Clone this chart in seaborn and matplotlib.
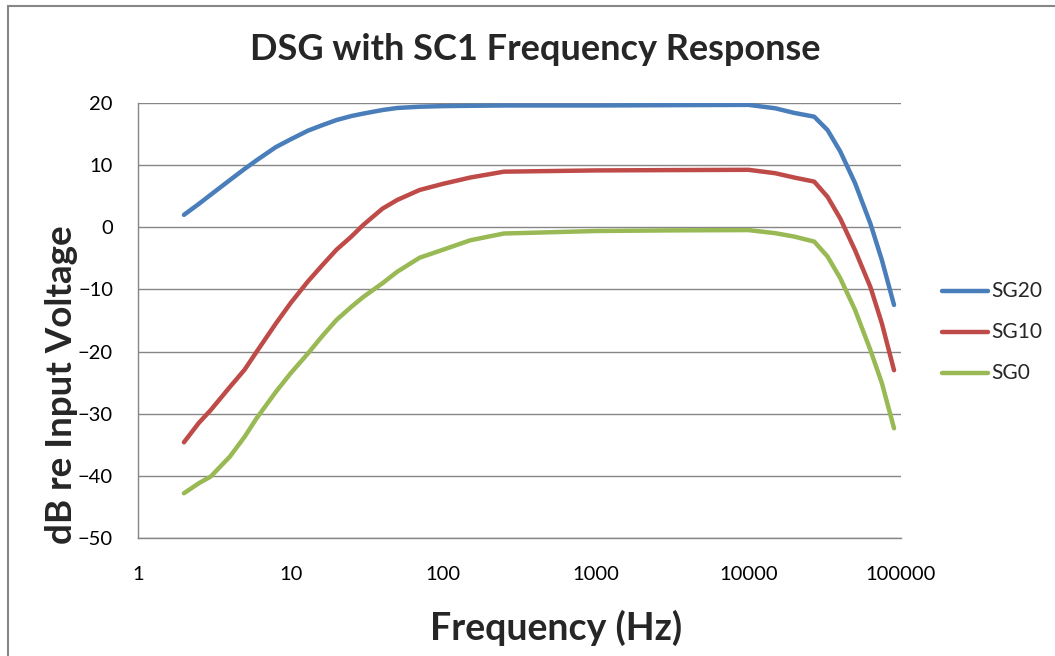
import numpy as np
import pandas as pd
import matplotlib
matplotlib.use("Agg")
import matplotlib.pyplot as plt
import seaborn as sns
from matplotlib.patches import Rectangle

# Values (Hz, dB)
freqs = [2, 2.5, 3, 4, 5, 6, 8, 10, 13, 16, 20, 25, 30, 40, 50, 70, 100, 150, 250,
         500, 1000, 3000, 10000, 15000, 20000, 27000, 33000, 40000, 50000, 63000,
         75000, 90000]
sg20 = [2.0, 3.75, 5.25, 7.6, 9.4, 10.8, 12.9, 14.15, 15.55, 16.4, 17.26, 17.9, 18.3,
        18.87, 19.2, 19.4, 19.5, 19.55, 19.6, 19.6, 19.6, 19.65, 19.7, 19.15, 18.4,
        17.8, 15.65, 12.2, 7.1, 0.6, -5.3, -12.5]
sg10 = [-34.6, -31.5, -29.4, -25.7, -22.9, -20.0, -15.5, -12.2, -8.7, -6.2, -3.6,
        -1.5, 0.4, 3.0, 4.4, 6.0, 7.0, 8.0, 8.95, 9.05, 9.15, 9.2, 9.25, 8.7, 8.0,
        7.35, 4.9, 1.4, -3.7, -9.6, -15.5, -23.0]
sg0 = [-42.8, -41.2, -40.1, -36.9, -33.7, -30.7, -26.5, -23.5, -20.3, -17.6, -14.9,
       -12.8, -11.2, -9.0, -7.15, -4.9, -3.6, -2.1, -1.0, -0.8, -0.6, -0.5, -0.45,
       -0.95, -1.5, -2.3, -4.7, -8.2, -13.3, -19.75, -25.1, -32.35]
series_names = ["SG20", "SG10", "SG0"]
colors = ["#4A7EBB", "#BE4B48", "#98B954"]

x_ticks = [1, 10, 100, 1000, 10000, 100000]
y_ticks = [20, 10, 0, -10, -20, -30, -40, -50]

df = pd.DataFrame({
    "Frequency": freqs * 3,
    "dB": sg20 + sg10 + sg0,
    "Series": [s for s in series_names for _ in freqs],
})

sns.set_style("white")
plt.rcParams["font.family"] = ["Lato", "DejaVu Sans"]

fig = plt.figure(figsize=(10.55, 6.56), dpi=100)
ax = fig.add_axes([138 / 1055, 1 - 538 / 656, 763 / 1055, 435 / 656])

sns.lineplot(data=df, x="Frequency", y="dB", hue="Series",
             palette=dict(zip(series_names, colors)), linewidth=3.2,
             ax=ax, legend=False)

ax.set_xscale("log")
ax.set_xlim(1, 100000)
ax.set_ylim(-50, 20)
ax.set_xticks(x_ticks)
ax.set_xticklabels([str(t) for t in x_ticks])
ax.minorticks_off()
ax.set_yticks(y_ticks)
ax.yaxis.grid(True, color="#868686", linewidth=1)
ax.xaxis.grid(False)
for side in ["top", "right"]:
    ax.spines[side].set_visible(False)
for side in ["left", "bottom"]:
    ax.spines[side].set_color("#868686")
    ax.spines[side].set_linewidth(1)
ax.tick_params(axis="both", which="major", length=6, width=1, color="#868686",
               labelsize=14.5, labelcolor="black", direction="out")
ax.tick_params(axis="y", pad=12)
ax.tick_params(axis="x", pad=14)
ax.set_xlabel("")
ax.set_ylabel("")

fig.text(535 / 1055, 1 - 50 / 656, "DSG with SC1 Frequency Response",
         ha="center", va="center", fontsize=26, fontweight="bold")
fig.text(556 / 1055, 1 - 628 / 656, "Frequency (Hz)",
         ha="center", va="center", fontsize=27, fontweight="bold")
fig.text(62 / 1055, 1 - 385 / 656, "dB re Input Voltage", rotation=90,
         ha="center", va="center", fontsize=26.5, fontweight="bold")

# legend on the right
for i, (name, col) in enumerate(zip(series_names, colors)):
    yy = 1 - (291 + 41 * i) / 656
    fig.add_artist(plt.Line2D([942 / 1055, 988 / 1055], [yy, yy], color=col,
                              linewidth=3.2, solid_capstyle="round"))
    fig.text(991 / 1055, yy, name, ha="left", va="center", fontsize=15)

# chart border
fig.add_artist(Rectangle((8 / 1055, -0.1), 1.2, 1 - 6 / 656 + 0.1,
                         transform=fig.transFigure, fill=False,
                         edgecolor="#868686", linewidth=1.5))

fig.savefig("out.png", dpi=100)
